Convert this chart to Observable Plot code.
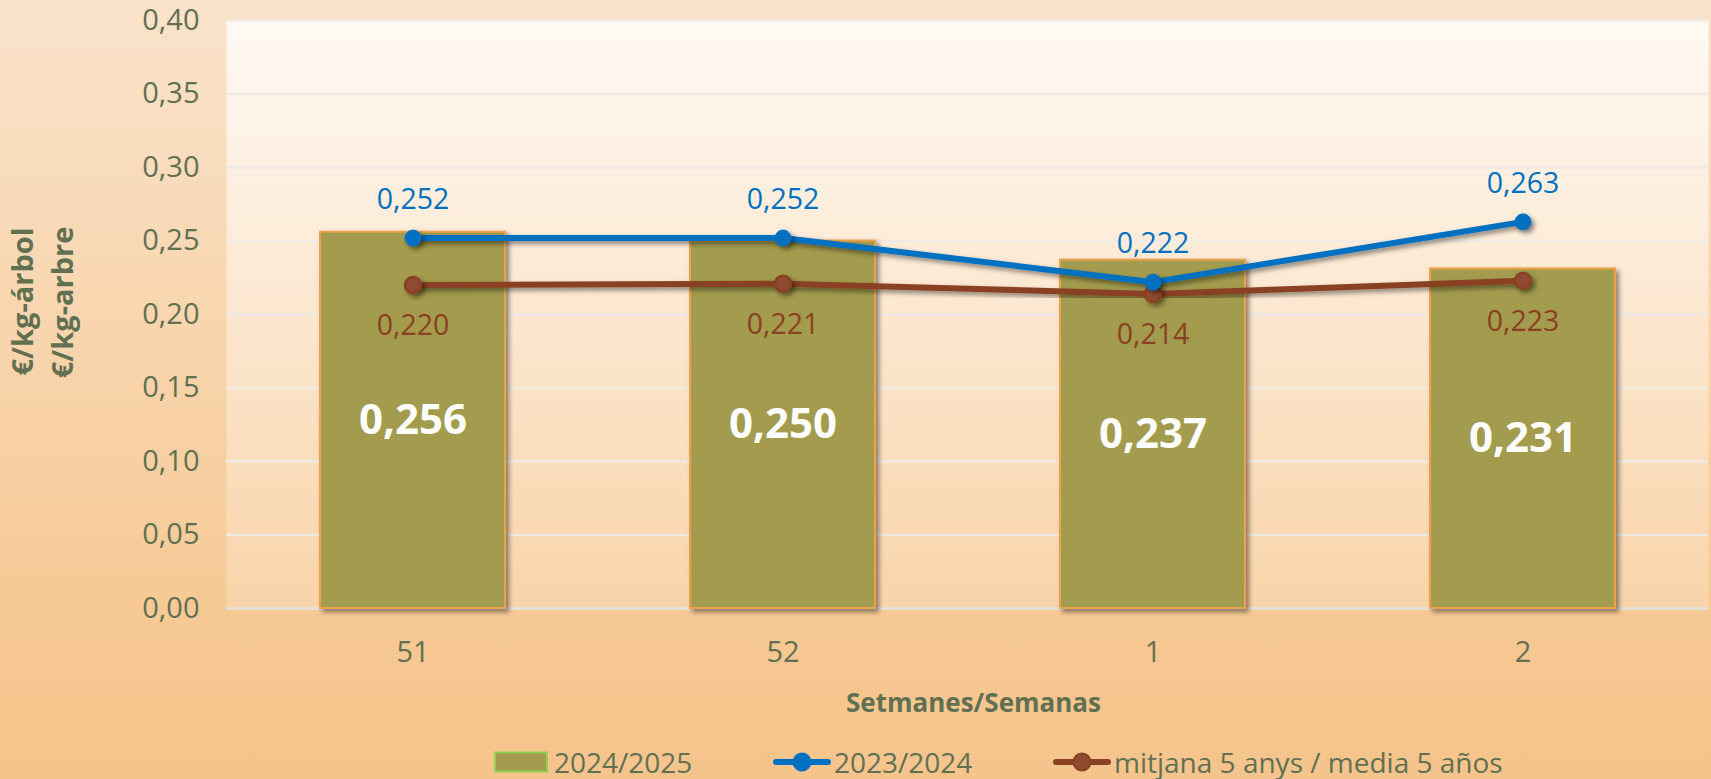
<!DOCTYPE html>
<html><head><meta charset="utf-8">
<script src="https://cdn.jsdelivr.net/npm/d3@7"></script>
<script src="https://cdn.jsdelivr.net/npm/@observablehq/plot@0.6"></script>
<style>
html,body{margin:0;padding:0;}
body{width:1711px;height:779px;background:linear-gradient(to bottom,#fae3cb 0%,#f6c790 85%,#f5c48d 100%);font-family:"Open Sans",sans-serif;overflow:hidden;}
#chart svg{display:block;overflow:visible;}
#legend{position:relative;height:39px;width:1711px;color:#627052;font-size:28px;}
.item{position:absolute;top:0;height:44px;display:flex;align-items:center;white-space:nowrap;}
.item svg{display:block;margin-right:3px;}
</style></head><body>
<div id="chart"></div>
<div id="legend"></div>
<script>
// ---- data ----
const weeks = ["51", "52", "1", "2"];
const season2425 = [0.256, 0.250, 0.237, 0.231];
const season2324 = [0.252, 0.252, 0.222, 0.263];
const avg5 = [0.220, 0.221, 0.214, 0.223];
const yTicks = [0, 0.05, 0.10, 0.15, 0.20, 0.25, 0.30, 0.35, 0.40];
const seriesNames = ["2024/2025", "2023/2024", "mitjana 5 anys / media 5 años"];
const yTitles = ["€/kg-árbol", "€/kg-arbre"];
const xTitle = "Setmanes/Semanas";

const fmt2 = d => d.toFixed(2).replace(".", ",");
const fmt3 = d => d.toFixed(3).replace(".", ",");

const bars = weeks.map((w, i) => ({week: w, value: season2425[i]}));
const blue = weeks.map((w, i) => ({week: w, value: season2324[i]}));
const brown = weeks.map((w, i) => ({week: w, value: avg5[i]}));

const C = {text: "#627052", bar: "#a39b4d", barStroke: "#eda24a", blue: "#0070c0", brown: "#8a4022", brownFill: "#8e4b30", grid: "#efeae3"};

const chart = Plot.plot({
  width: 1711,
  height: 740,
  marginLeft: 226,
  marginRight: 3,
  marginTop: 20,
  marginBottom: 132,
  style: {fontFamily: "'Open Sans', sans-serif", fontSize: "29px", color: C.text, background: "transparent", overflow: "visible"},
  x: {domain: weeks, paddingInner: 0.5, paddingOuter: 0.25, label: null},
  y: {domain: [0, 0.40], label: null},
  marks: [
    Plot.frame({fill: "url(#plotBg)", stroke: "none"}),
    Plot.gridY(yTicks, {stroke: C.grid, strokeOpacity: 1, strokeWidth: 2.5}),
    Plot.ruleY([0], {stroke: "#e3dfd9", strokeWidth: 2.5}),
    Plot.axisY({ticks: yTicks, tickFormat: fmt2, tickSize: 0, tickPadding: 27, label: null}),
    Plot.axisX({tickSize: 0, tickPadding: 33, label: null}),
    Plot.barY(bars, {x: "week", y: "value", fill: C.bar, stroke: C.barStroke, strokeWidth: 2}),
    Plot.text(bars, {x: "week", y: d => d.value / 2, text: d => fmt3(d.value), fill: "white", fontWeight: "bold", fontSize: 42}),
    Plot.line(brown, {x: "week", y: "value", stroke: C.brown, strokeWidth: 6}),
    Plot.dot(brown, {x: "week", y: "value", r: 8, fill: C.brownFill, stroke: C.brown, strokeWidth: 2.5}),
    Plot.line(blue, {x: "week", y: "value", stroke: C.blue, strokeWidth: 6}),
    Plot.dot(blue, {x: "week", y: "value", r: 8, fill: C.blue, stroke: C.blue, strokeWidth: 1}),
    Plot.text(blue, {x: "week", y: "value", text: d => fmt3(d.value), fill: C.blue, dy: -38, fontSize: 28.5}),
    Plot.text(brown, {x: "week", y: "value", text: d => fmt3(d.value), fill: C.brown, dy: 41, fontSize: 28.5}),
    Plot.text([yTitles[0]], {frameAnchor: "left", text: d => d, rotate: -90, textAnchor: "middle", dx: -203, dy: -13, fontWeight: "bold", fontSize: 29, fill: C.text}),
    Plot.text([yTitles[1]], {frameAnchor: "left", text: d => d, rotate: -90, textAnchor: "middle", dx: -163, dy: -12, fontWeight: "bold", fontSize: 29, fill: C.text}),
    Plot.text([xTitle], {frameAnchor: "bottom", text: d => d, dy: 103, dx: 6, fontWeight: "bold", fontSize: 26, fill: C.text})
  ]
});

// defs: gradient for plot area and shadow filter
const svg = d3.select(chart);
const defs = svg.insert("defs", ":first-child");
const g = defs.append("linearGradient").attr("id", "plotBg").attr("x1", 0).attr("y1", 0).attr("x2", 0).attr("y2", 1);
g.append("stop").attr("offset", "0%").attr("stop-color", "#fffaf5");
g.append("stop").attr("offset", "100%").attr("stop-color", "#f9d4a9");
const f = defs.append("filter").attr("id", "shadow").attr("x", "-20%").attr("y", "-20%").attr("width", "150%").attr("height", "150%");
f.append("feDropShadow").attr("dx", 3).attr("dy", 3).attr("stdDeviation", 2.5).attr("flood-color", "#000").attr("flood-opacity", 0.45);
svg.selectAll('g[aria-label="bar"], g[aria-label="line"], g[aria-label="dot"]').attr("filter", "url(#shadow)");

document.getElementById("chart").appendChild(chart);

// legend
const legend = d3.select("#legend");
const items = [
  {left: 493, kind: "rect", name: seriesNames[0]},
  {left: 773, kind: "blue", name: seriesNames[1]},
  {left: 1053, kind: "brown", name: seriesNames[2]}
];
for (const it of items) {
  const div = legend.append("div").attr("class", "item").style("left", it.left + "px");
  const s = div.append("svg").attr("width", 58).attr("height", 24);
  if (it.kind === "rect") {
    s.append("rect").attr("x", 2).attr("y", 2.5).attr("width", 52).attr("height", 19).attr("fill", C.bar).attr("stroke", "#92d050").attr("stroke-width", 2);
  } else {
    const col = it.kind === "blue" ? C.blue : C.brown;
    const fill = it.kind === "blue" ? C.blue : C.brownFill;
    s.append("line").attr("x1", 3).attr("x2", 55).attr("y1", 12).attr("y2", 12).attr("stroke", col).attr("stroke-width", 6).attr("stroke-linecap", "round");
    s.append("circle").attr("cx", 29).attr("cy", 12).attr("r", 8.5).attr("fill", fill).attr("stroke", col).attr("stroke-width", 2);
  }
  div.append("span").text(it.name);
}
</script>
</body></html>
